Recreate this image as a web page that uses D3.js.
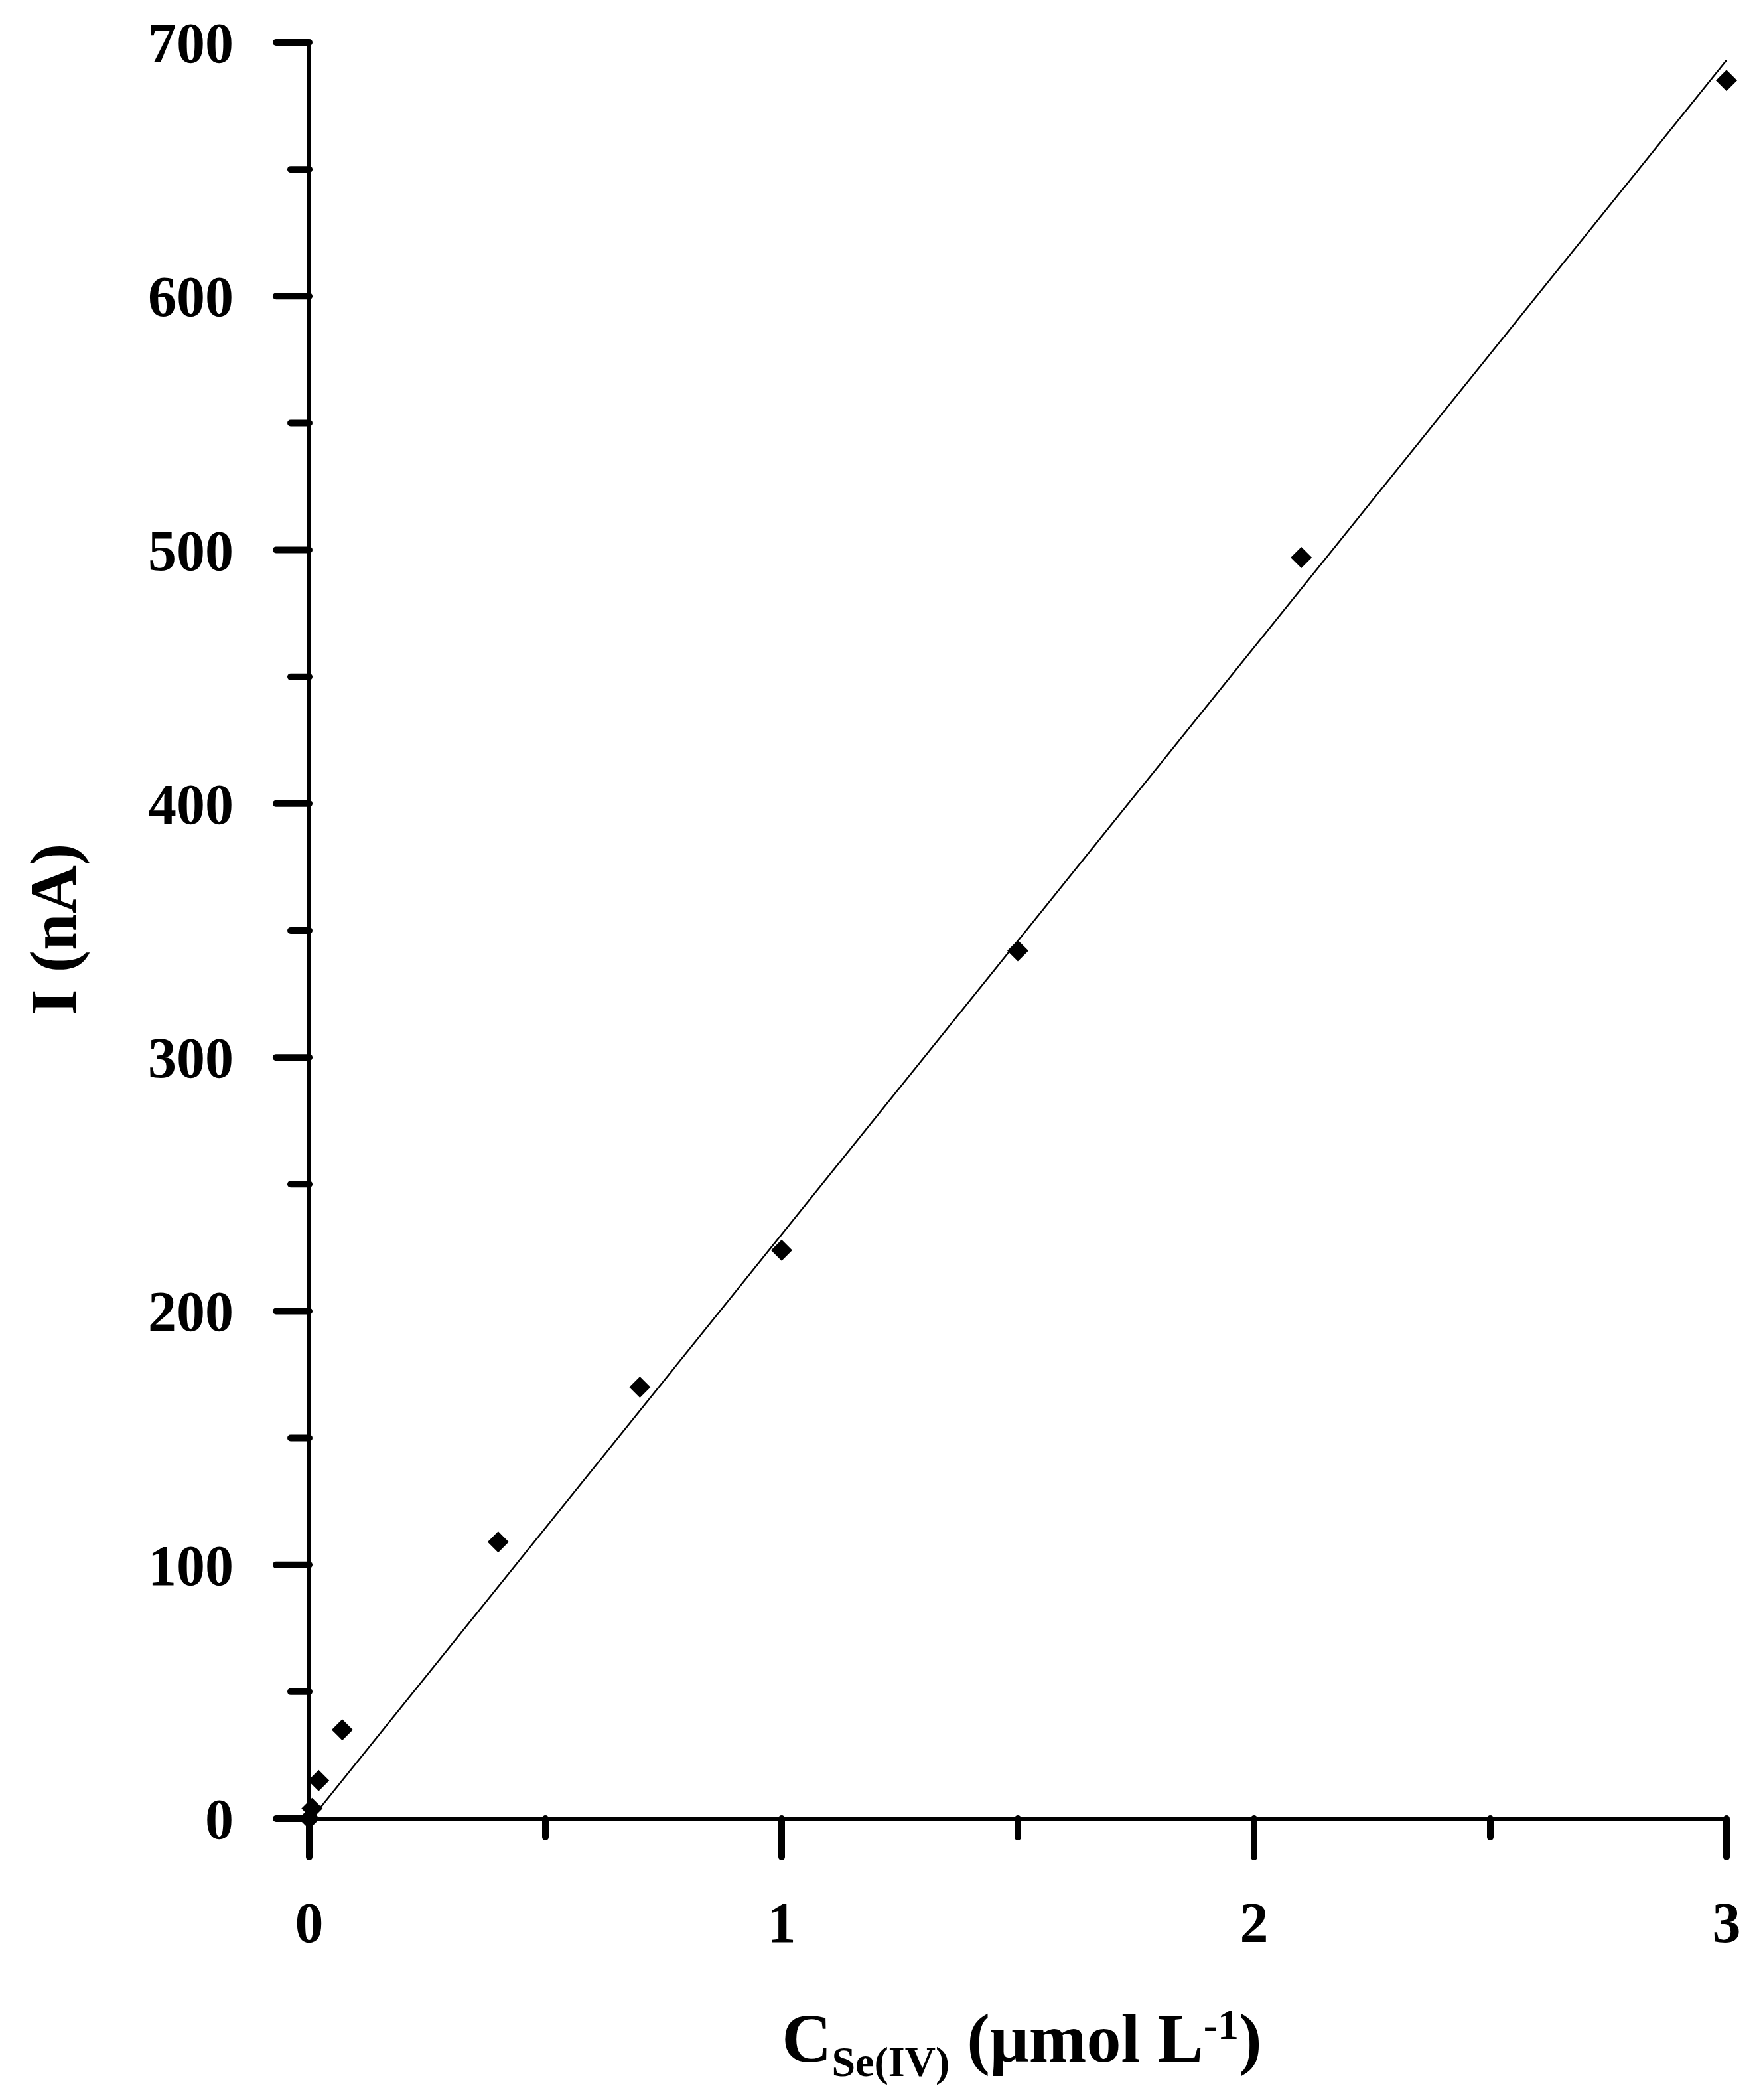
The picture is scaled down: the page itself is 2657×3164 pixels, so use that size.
<!DOCTYPE html>
<html>
<head>
<meta charset="utf-8">
<script src="https://cdn.jsdelivr.net/npm/d3@7"></script>
<style>
  body { margin: 0; background: #fff; }
  text { font-family: "Liberation Serif", "DejaVu Serif", serif; font-weight: bold; fill: #000; }
</style>
</head>
<body>
<svg id="chart" width="2657" height="3164"></svg>
<script>
// data
var conc = [0, 0.006, 0.02, 0.07, 0.4, 0.7, 1.0, 1.5, 2.1, 3.0];
var current = [0, 4, 15, 35, 109, 170, 224, 342, 497, 685];
var fitLine = [[0.005, 0], [3.0, 693]];
var xTicks = [0, 1, 2, 3];
var xMinor = [0.5, 1.5, 2.5];
var yTicks = [0, 100, 200, 300, 400, 500, 600, 700];
var yMinor = [50, 150, 250, 350, 450, 550, 650];

var svg = d3.select("#chart"),
    x = d3.scaleLinear().domain([0, 3]).range([466, 2602]),
    y = d3.scaleLinear().domain([0, 700]).range([2740, 64]);

// axis lines
svg.append("line").attr("x1", x(0)).attr("x2", x(3)).attr("y1", y(0)).attr("y2", y(0))
    .attr("stroke", "#000").attr("stroke-width", 6);
svg.append("line").attr("x1", x(0)).attr("x2", x(0)).attr("y1", y(0)).attr("y2", y(700))
    .attr("stroke", "#000").attr("stroke-width", 6);

// y ticks
svg.selectAll(".ytick").data(yTicks).enter().append("line")
    .attr("x1", x(0) - 50).attr("x2", x(0)).attr("y1", y).attr("y2", y)
    .attr("stroke", "#000").attr("stroke-width", 10).attr("stroke-linecap", "round");
svg.selectAll(".yminor").data(yMinor).enter().append("line")
    .attr("x1", x(0) - 28).attr("x2", x(0)).attr("y1", y).attr("y2", y)
    .attr("stroke", "#000").attr("stroke-width", 10).attr("stroke-linecap", "round");
svg.selectAll(".ylab").data(yTicks).enter().append("text")
    .attr("x", 352).attr("y", function (d) { return y(d) + 30; })
    .attr("text-anchor", "end").attr("font-size", 86)
    .text(function (d) { return d; });

// x ticks
svg.selectAll(".xtick").data(xTicks).enter().append("line")
    .attr("x1", x).attr("x2", x).attr("y1", y(0)).attr("y2", y(0) + 58)
    .attr("stroke", "#000").attr("stroke-width", 10).attr("stroke-linecap", "round");
svg.selectAll(".xminor").data(xMinor).enter().append("line")
    .attr("x1", x).attr("x2", x).attr("y1", y(0)).attr("y2", y(0) + 28)
    .attr("stroke", "#000").attr("stroke-width", 10).attr("stroke-linecap", "round");
svg.selectAll(".xlab").data(xTicks).enter().append("text")
    .attr("x", x).attr("y", 2926)
    .attr("text-anchor", "middle").attr("font-size", 86)
    .text(function (d) { return d; });

// fit line
svg.append("line")
    .attr("x1", x(fitLine[0][0])).attr("y1", y(fitLine[0][1]))
    .attr("x2", x(fitLine[1][0])).attr("y2", y(fitLine[1][1]))
    .attr("stroke", "#000").attr("stroke-width", 2.5);

// points
var r = 16;
svg.selectAll(".pt").data(conc).enter().append("path")
    .attr("d", function (d, i) {
        var cx = x(d), cy = y(current[i]);
        return "M" + cx + "," + (cy - r) + "L" + (cx + r) + "," + cy +
               "L" + cx + "," + (cy + r) + "L" + (cx - r) + "," + cy + "Z";
    })
    .attr("fill", "#000");

// axis titles
svg.append("text")
    .attr("transform", "translate(114,1400) rotate(-90)")
    .attr("text-anchor", "middle").attr("font-size", 100)
    .text("I (nA)");

var xt = svg.append("text").attr("x", 1540).attr("y", 3106)
    .attr("text-anchor", "middle").attr("font-size", 104);
xt.append("tspan").text("C");
xt.append("tspan").attr("font-size", 64).attr("dy", 22).text("Se(IV)");
xt.append("tspan").attr("dy", -22).text(" (μmol L");
xt.append("tspan").attr("font-size", 64).attr("dy", -34).text("-1");
xt.append("tspan").attr("dy", 34).text(")");
</script>
</body>
</html>
